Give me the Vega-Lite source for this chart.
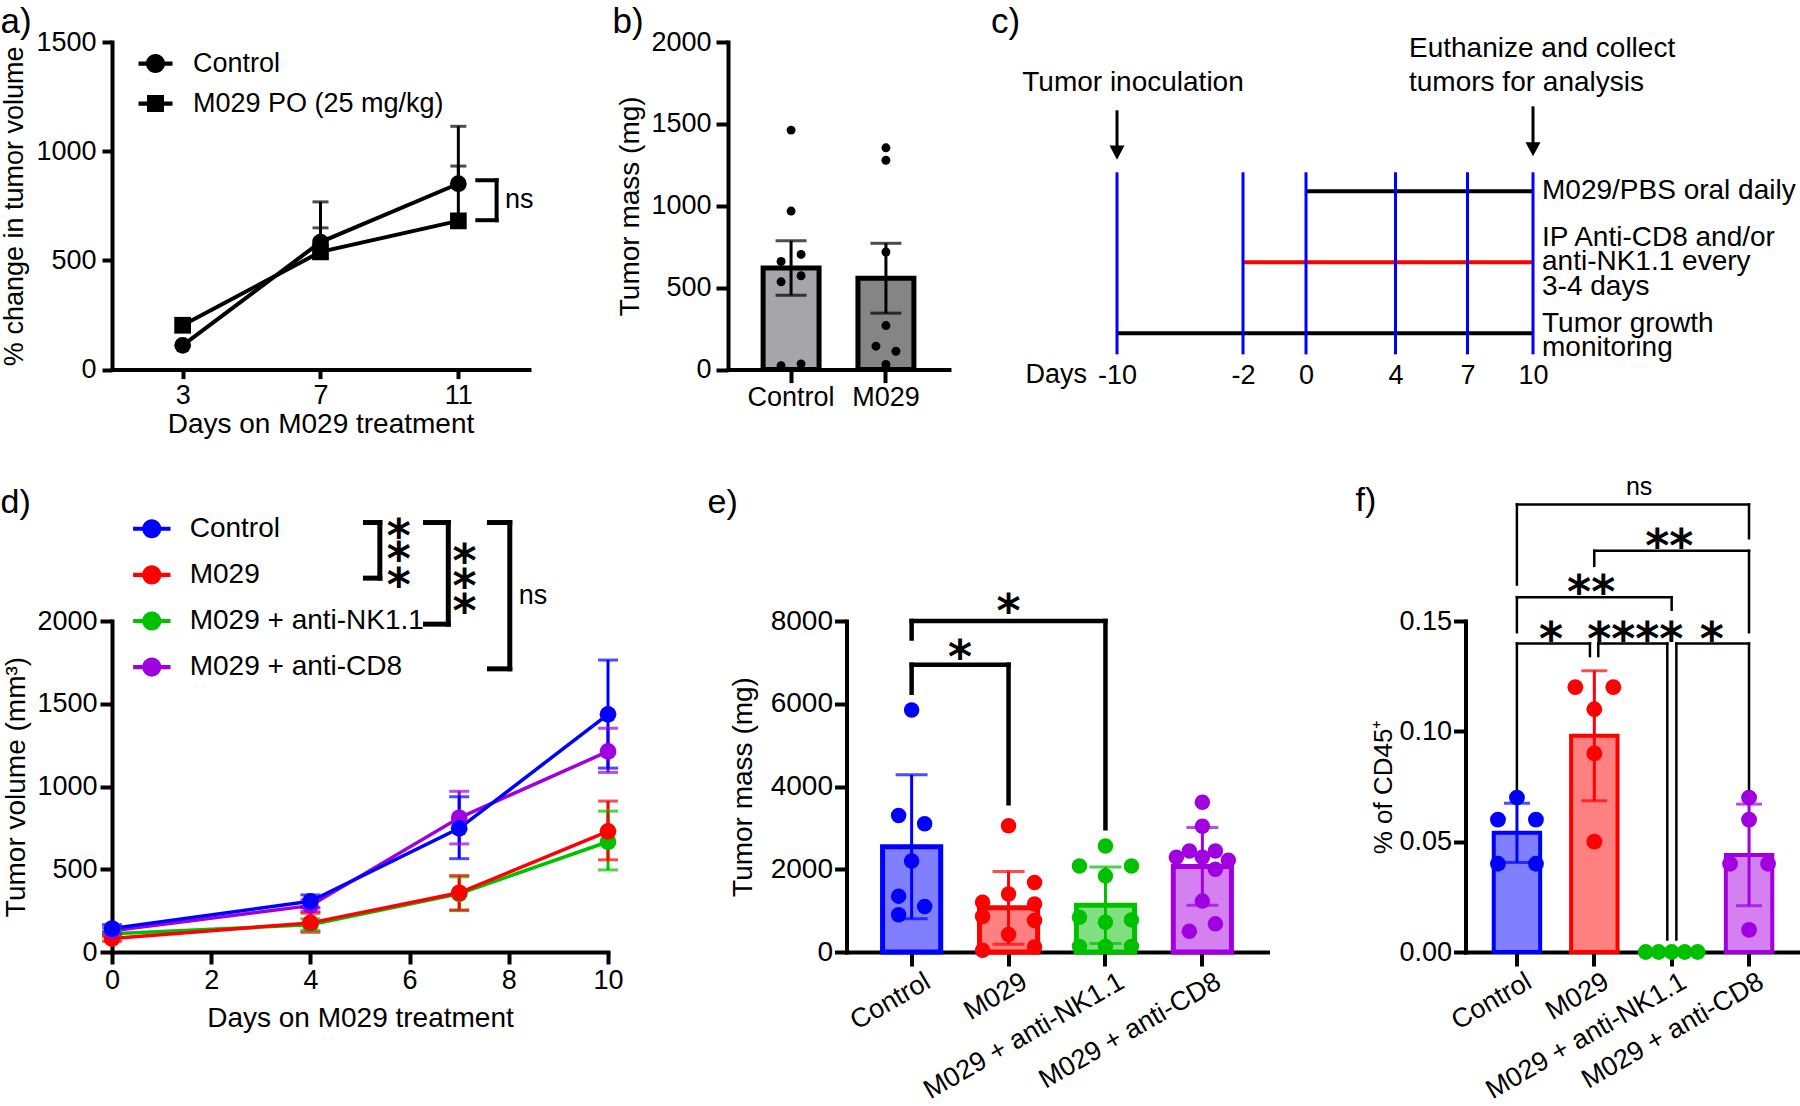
{
  "$schema": "https://vega.github.io/schema/vega-lite/v6.json",
  "background": "white",
  "padding": {"left": 0, "top": 5, "right": 0, "bottom": 0},
  "autosize": {"type": "pad"},
  "config": {
    "font": "Liberation Sans",
    "view": {"stroke": null},
    "axis": {"grid": false, "domainColor": "black", "tickColor": "black", "labelColor": "black", "titleColor": "black", "domainWidth": 4, "tickWidth": 4, "domainCap": "square", "titleFontWeight": "normal", "labelFlush": false, "labelOverlap": false, "labelLimit": 400, "labelFont": "Liberation Sans", "titleFont": "Liberation Sans"},
    "legend": {"labelColor": "black", "labelFont": "Liberation Sans"}
  },
  "spacing": 35,
  "resolve": {"scale": {"color": "independent", "fill": "independent", "stroke": "independent", "shape": "independent"}, "legend": {"color": "independent", "shape": "independent", "fill": "independent", "stroke": "independent"}},
  "vconcat": [
    {
      "bounds": "flush",
      "spacing": 199,
      "resolve": {"scale": {"color": "independent", "fill": "independent", "stroke": "independent", "shape": "independent"}, "legend": {"color": "independent", "shape": "independent", "fill": "independent", "stroke": "independent"}},
      "hconcat": [
        {
          "width": 417, "height": 327.6,
          "data": {"values": [
            {"series": "Control", "day": 3, "pct": 111},
            {"series": "Control", "day": 7, "pct": 584, "upper": 768},
            {"series": "Control", "day": 11, "pct": 851, "upper": 1114},
            {"series": "M029 PO (25 mg/kg)", "day": 3, "pct": 203},
            {"series": "M029 PO (25 mg/kg)", "day": 7, "pct": 539, "upper": 649},
            {"series": "M029 PO (25 mg/kg)", "day": 11, "pct": 681, "upper": 932}
          ]},
          "layer": [
            {"mark": {"type": "line", "color": "black", "strokeWidth": 4},
             "encoding": {
               "x": {"field": "day", "type": "quantitative", "title": "Days on M029 treatment", "scale": {"domain": [0.95, 13.05], "nice": false, "zero": false},
                     "axis": {"values": [3, 7, 11], "title": "Days on M029 treatment", "tickSize": 9, "labelPadding": 4, "titlePadding": 2, "labelFontSize": 27, "titleFontSize": 28}},
               "y": {"field": "pct", "type": "quantitative", "title": "% change in tumor volume", "scale": {"domain": [0, 1500], "nice": false},
                     "axis": {"values": [0, 500, 1000, 1500], "format": "d", "title": "% change in tumor volume", "tickSize": 10, "labelPadding": 6, "titlePadding": 7.5, "labelFontSize": 27, "titleFontSize": 27}},
               "detail": {"field": "series", "type": "nominal"}
             }},
            {"transform": [{"filter": "isValid(datum.upper)"}],
             "mark": {"type": "rule", "color": "black", "strokeWidth": 3},
             "encoding": {"x": {"field": "day", "type": "quantitative", "title": "Days on M029 treatment"}, "y": {"field": "pct", "type": "quantitative", "title": "% change in tumor volume"}, "y2": {"field": "upper"}}},
            {"transform": [{"filter": "isValid(datum.upper)"}],
             "mark": {"type": "tick", "orient": "horizontal", "color": "black", "size": 16, "thickness": 3},
             "encoding": {"x": {"field": "day", "type": "quantitative", "title": "Days on M029 treatment"}, "y": {"field": "upper", "type": "quantitative", "title": "% change in tumor volume"}}},
            {"mark": {"type": "point", "filled": true, "opacity": 1, "size": 280, "color": "black"},
             "encoding": {"x": {"field": "day", "type": "quantitative", "title": "Days on M029 treatment"}, "y": {"field": "pct", "type": "quantitative", "title": "% change in tumor volume"},
               "shape": {"field": "series", "type": "nominal", "scale": {"domain": ["Control", "M029 PO (25 mg/kg)"], "range": ["circle", "square"]}, "legend": null}}},
            {"mark": {"type": "point", "filled": true, "opacity": 0, "size": 1156, "color": "black"},
             "encoding": {"x": {"field": "day", "type": "quantitative", "title": "Days on M029 treatment"}, "y": {"field": "pct", "type": "quantitative", "title": "% change in tumor volume"},
               "shape": {"field": "series", "type": "nominal",
                 "scale": {"domain": ["Control", "M029 PO (25 mg/kg)"], "range": ["M-1,-0.12H1V0.12H-1Z M0.56,0A0.56,0.56,0,1,1,-0.56,0A0.56,0.56,0,1,1,0.56,0Z", "M-1,-0.12H1V0.12H-1Z M-0.5,-0.5H0.5V0.5H-0.5Z"]},
                 "legend": {"title": null, "orient": "none", "legendX": 26.5, "legendY": 4.6, "symbolSize": 1156, "symbolOpacity": 1, "symbolFillColor": "black", "symbolStrokeWidth": 0, "labelFontSize": 27, "labelOffset": 20.5, "rowPadding": 10, "padding": 0, "labelLimit": 500}}}},
            {"data": {"values": [
              {"d1": 11.55, "d2": 12.11, "v1": 867, "v2": 867},
              {"d1": 11.55, "d2": 12.11, "v1": 684, "v2": 684},
              {"d1": 12.11, "d2": 12.11, "v1": 684, "v2": 867}
            ]},
             "mark": {"type": "rule", "color": "black", "strokeWidth": 4, "strokeCap": "square"},
             "encoding": {"x": {"field": "d1", "type": "quantitative", "title": "Days on M029 treatment"}, "x2": {"field": "d2"}, "y": {"field": "v1", "type": "quantitative", "title": "% change in tumor volume"}, "y2": {"field": "v2"}}},
            {"data": {"values": [{"d": 12.35, "v": 775, "t": "ns"}]},
             "mark": {"type": "text", "align": "left", "baseline": "middle", "fontSize": 27, "color": "black"},
             "encoding": {"x": {"field": "d", "type": "quantitative", "title": "Days on M029 treatment"}, "y": {"field": "v", "type": "quantitative", "title": "% change in tumor volume"}, "text": {"field": "t"}}},
            {"data": {"values": [{}]},
             "mark": {"type": "text", "align": "left", "baseline": "alphabetic", "fontSize": 35, "dx": -111.5, "dy": -8.7, "color": "black"},
             "encoding": {"x": {"datum": 0.95}, "y": {"datum": 1500}, "text": {"value": "a)"}}}
          ],
          "resolve": {"scale": {"shape": "independent"}, "legend": {"shape": "independent"}}
        },
        {
          "bounds": "flush",
          "spacing": 168,
          "resolve": {"scale": {"color": "independent", "fill": "independent", "stroke": "independent", "shape": "independent"}, "legend": {"color": "independent", "shape": "independent", "fill": "independent", "stroke": "independent"}},
          "hconcat": [
            {
              "width": 221, "height": 327.6,
              "data": {"values": [
                {"group": "Control", "mass": 1462, "col": 0},
                {"group": "Control", "mass": 968, "col": 0},
                {"group": "Control", "mass": 703, "col": 1},
                {"group": "Control", "mass": 660, "col": -1},
                {"group": "Control", "mass": 573, "col": 1},
                {"group": "Control", "mass": 536, "col": -1},
                {"group": "Control", "mass": 24, "col": -1},
                {"group": "Control", "mass": 35, "col": 1},
                {"group": "M029", "mass": 1354, "col": 0},
                {"group": "M029", "mass": 1278, "col": 0},
                {"group": "M029", "mass": 718, "col": 0},
                {"group": "M029", "mass": 269, "col": 0},
                {"group": "M029", "mass": 143, "col": -1},
                {"group": "M029", "mass": 112, "col": 1},
                {"group": "M029", "mass": 31, "col": 0}
              ]},
              "encoding": {
                "x": {"field": "group", "type": "nominal", "title": null, "scale": {"domain": ["Control", "M029"], "paddingInner": 0.41, "paddingOuter": 0.37},
                      "axis": {"labelAngle": 0, "title": null, "tickSize": 13, "labelPadding": 2, "labelFontSize": 27}}
              },
              "layer": [
                {"mark": {"type": "bar", "stroke": "black", "strokeWidth": 5},
                 "encoding": {
                   "y": {"aggregate": "mean", "field": "mass", "type": "quantitative", "title": "Tumor mass (mg)", "scale": {"domain": [0, 2000], "nice": false},
                         "axis": {"values": [0, 500, 1000, 1500, 2000], "format": "d", "title": "Tumor mass (mg)", "tickSize": 12, "labelPadding": 5, "titlePadding": 6.5, "labelFontSize": 27, "titleFontSize": 28}},
                   "fill": {"field": "group", "type": "nominal", "scale": {"domain": ["Control", "M029"], "range": ["#a6a6a8", "#858585"]}, "legend": null}
                 }},
                {"mark": {"type": "errorbar", "extent": "stderr", "color": "black", "thickness": 3, "size": 31, "ticks": true},
                 "encoding": {"y": {"field": "mass", "type": "quantitative", "title": "Tumor mass (mg)"}}},
                {"transform": [{"filter": "datum.col == -1"}],
                 "mark": {"type": "circle", "size": 80, "color": "black", "opacity": 1, "xOffset": -10},
                 "encoding": {"y": {"field": "mass", "type": "quantitative", "title": "Tumor mass (mg)"}}},
                {"transform": [{"filter": "datum.col == 0"}],
                 "mark": {"type": "circle", "size": 80, "color": "black", "opacity": 1},
                 "encoding": {"y": {"field": "mass", "type": "quantitative", "title": "Tumor mass (mg)"}}},
                {"transform": [{"filter": "datum.col == 1"}],
                 "mark": {"type": "circle", "size": 80, "color": "black", "opacity": 1, "xOffset": 10},
                 "encoding": {"y": {"field": "mass", "type": "quantitative", "title": "Tumor mass (mg)"}}},
                {"data": {"values": [{}]},
                 "mark": {"type": "text", "align": "left", "baseline": "alphabetic", "fontSize": 35, "dx": -178.6, "dy": -8.7, "color": "black"},
                 "encoding": {"x": {"datum": "Control"}, "y": {"datum": 2000}, "text": {"value": "b)"}}}
              ]
            },
            {
              "width": 416, "height": 327.6,
              "layer": [
                {"data": {"values": [
                  {"track": "M029/PBS oral daily", "from": 0, "to": 10, "v": 1},
                  {"track": "IP antibody", "from": -2, "to": 10, "v": 2},
                  {"track": "Tumor growth monitoring", "from": -10, "to": 10, "v": 3}
                ]},
                 "mark": {"type": "rule", "strokeWidth": 4},
                 "encoding": {
                   "x": {"field": "from", "type": "quantitative", "title": null, "scale": {"domain": [-10, -2, 0, 4, 7, 10], "range": [0, 126, 189, 278.5, 350.5, 416], "nice": false, "zero": false},
                         "axis": {"values": [-10, -2, 0, 4, 7, 10], "labelExpr": "'' + datum.value", "domain": false, "ticks": false, "tickSize": 0, "labelPadding": 6, "labelBaseline": "middle", "labelFontSize": 27, "title": null}},
                   "x2": {"field": "to"},
                   "y": {"field": "v", "type": "quantitative", "title": null, "scale": {"domain": [-1.103, 3.511], "reverse": true, "nice": false, "zero": false}, "axis": null},
                   "color": {"field": "track", "type": "nominal", "scale": {"domain": ["M029/PBS oral daily", "IP antibody", "Tumor growth monitoring"], "range": ["black", "#ff0000", "black"]}, "legend": null}
                 }},
                {"data": {"values": [
                  {"day": -10, "top": 0.732, "bottom": 3.296},
                  {"day": -2, "top": 0.732, "bottom": 3.296},
                  {"day": 0, "top": 0.732, "bottom": 3.296},
                  {"day": 4, "top": 0.732, "bottom": 3.296},
                  {"day": 7, "top": 0.732, "bottom": 3.296},
                  {"day": 10, "top": 0.732, "bottom": 3.296}
                ]},
                 "mark": {"type": "rule", "strokeWidth": 3, "color": "#0000ff"},
                 "encoding": {"x": {"field": "day", "type": "quantitative", "title": null}, "y": {"field": "top", "type": "quantitative", "title": null}, "y2": {"field": "bottom"}}},
                {"data": {"values": [
                  {"day": -10, "top": -0.141, "bottom": 0.42},
                  {"day": 10, "top": -0.197, "bottom": 0.38}
                ]},
                 "mark": {"type": "rule", "strokeWidth": 3, "color": "black"},
                 "encoding": {"x": {"field": "day", "type": "quantitative", "title": null}, "y": {"field": "top", "type": "quantitative", "title": null}, "y2": {"field": "bottom"}}},
                {"data": {"values": [
                  {"day": -10, "tip": 0.554},
                  {"day": 10, "tip": 0.507}
                ]},
                 "mark": {"type": "point", "shape": "M0,0L-1,-1.87L1,-1.87Z", "filled": true, "size": 225, "color": "black", "opacity": 1},
                 "encoding": {"x": {"field": "day", "type": "quantitative", "title": null}, "y": {"field": "tip", "type": "quantitative", "title": null}}},
                {"data": {"values": [
                  {"day": 10, "v": 1, "label": "M029/PBS oral daily"},
                  {"day": 10, "v": 1.662, "label": "IP Anti-CD8 and/or"},
                  {"day": 10, "v": 2.0, "label": "anti-NK1.1 every"},
                  {"day": 10, "v": 2.352, "label": "3-4 days"},
                  {"day": 10, "v": 2.873, "label": "Tumor growth"},
                  {"day": 10, "v": 3.211, "label": "monitoring"}
                ]},
                 "mark": {"type": "text", "align": "left", "baseline": "middle", "dx": 9, "fontSize": 28, "color": "black"},
                 "encoding": {"x": {"field": "day", "type": "quantitative", "title": null}, "y": {"field": "v", "type": "quantitative", "title": null}, "text": {"field": "label"}}},
                {"data": {"values": [
                  {"day": 10, "v": -1.0, "label": "Euthanize and collect"},
                  {"day": 10, "v": -0.521, "label": "tumors for analysis"}
                ]},
                 "mark": {"type": "text", "align": "left", "baseline": "middle", "dx": -124, "fontSize": 28, "color": "black"},
                 "encoding": {"x": {"field": "day", "type": "quantitative", "title": null}, "y": {"field": "v", "type": "quantitative", "title": null}, "text": {"field": "label"}}},
                {"data": {"values": [
                  {"day": -10, "v": -0.521, "label": "Tumor inoculation"}
                ]},
                 "mark": {"type": "text", "align": "center", "baseline": "middle", "dx": 16, "fontSize": 28, "color": "black"},
                 "encoding": {"x": {"field": "day", "type": "quantitative", "title": null}, "y": {"field": "v", "type": "quantitative", "title": null}, "text": {"field": "label"}}},
                {"data": {"values": [
                  {"day": -10, "v": 3.592, "label": "Days"}
                ]},
                 "mark": {"type": "text", "align": "right", "baseline": "middle", "dx": -30, "fontSize": 27, "color": "black"},
                 "encoding": {"x": {"field": "day", "type": "quantitative", "title": null}, "y": {"field": "v", "type": "quantitative", "title": null}, "text": {"field": "label"}}},
                {"data": {"values": [{}]},
                 "mark": {"type": "text", "align": "left", "baseline": "alphabetic", "fontSize": 35, "dx": -126, "dy": -8.7, "color": "black"},
                 "encoding": {"x": {"datum": -10}, "y": {"datum": -1.103}, "text": {"value": "c)"}}}
              ]
            }
          ]
        }
      ]
    },
    {
      "bounds": "flush",
      "spacing": 238.5,
      "resolve": {"scale": {"color": "independent", "fill": "independent", "stroke": "independent", "shape": "independent"}, "legend": {"color": "independent", "shape": "independent", "fill": "independent", "stroke": "independent"}},
      "hconcat": [
        {
          "width": 496, "height": 331,
          "data": {"values": [
            {"series": "M029 + anti-NK1.1", "day": 0, "vol": 110, "lo": 95, "hi": 125},
            {"series": "M029 + anti-NK1.1", "day": 4, "vol": 165, "lo": 130, "hi": 200},
            {"series": "M029 + anti-NK1.1", "day": 7, "vol": 352, "lo": 250, "hi": 454},
            {"series": "M029 + anti-NK1.1", "day": 10, "vol": 666, "lo": 496, "hi": 851},
            {"series": "M029", "day": 0, "vol": 81, "lo": 65, "hi": 97},
            {"series": "M029", "day": 4, "vol": 176, "lo": 119, "hi": 234},
            {"series": "M029", "day": 7, "vol": 358, "lo": 254, "hi": 462},
            {"series": "M029", "day": 10, "vol": 729, "lo": 557, "hi": 912},
            {"series": "M029 + anti-CD8", "day": 0, "vol": 128, "lo": 110, "hi": 146},
            {"series": "M029 + anti-CD8", "day": 4, "vol": 280, "lo": 245, "hi": 315},
            {"series": "M029 + anti-CD8", "day": 7, "vol": 811, "lo": 653, "hi": 971},
            {"series": "M029 + anti-CD8", "day": 10, "vol": 1212, "lo": 1085, "hi": 1352},
            {"series": "Control", "day": 0, "vol": 142, "lo": 120, "hi": 165},
            {"series": "Control", "day": 4, "vol": 306, "lo": 268, "hi": 345},
            {"series": "Control", "day": 7, "vol": 747, "lo": 564, "hi": 938},
            {"series": "Control", "day": 10, "vol": 1436, "lo": 1111, "hi": 1764}
          ]},
          "layer": [
            {"mark": {"type": "line", "strokeWidth": 3.5},
             "encoding": {
               "x": {"field": "day", "type": "quantitative", "title": "Days on M029 treatment", "scale": {"domain": [0, 10], "nice": false, "zero": false},
                     "axis": {"values": [0, 2, 4, 6, 8, 10], "title": "Days on M029 treatment", "tickSize": 12, "labelPadding": 3, "titlePadding": 11, "labelFontSize": 27, "titleFontSize": 28}},
               "y": {"field": "vol", "type": "quantitative", "title": "Tumor volume (mm³)", "scale": {"domain": [0, 2000], "nice": false},
                     "axis": {"values": [0, 500, 1000, 1500, 2000], "format": "d", "title": "Tumor volume (mm³)", "tickSize": 12, "labelPadding": 3, "titlePadding": 6, "labelFontSize": 27, "titleFontSize": 28}},
               "color": {"field": "series", "type": "nominal", "scale": {"domain": ["Control", "M029", "M029 + anti-NK1.1", "M029 + anti-CD8"], "range": ["#0000ff", "#ff0000", "#00c000", "#a000e0"]}, "legend": null}
             }},
            {"mark": {"type": "rule", "strokeWidth": 3},
             "encoding": {"x": {"field": "day", "type": "quantitative", "title": "Days on M029 treatment"}, "y": {"field": "lo", "type": "quantitative", "title": "Tumor volume (mm³)"}, "y2": {"field": "hi"},
               "color": {"field": "series", "type": "nominal", "legend": null}}},
            {"mark": {"type": "tick", "orient": "horizontal", "size": 20, "thickness": 3},
             "encoding": {"x": {"field": "day", "type": "quantitative", "title": "Days on M029 treatment"}, "y": {"field": "lo", "type": "quantitative", "title": "Tumor volume (mm³)"},
               "color": {"field": "series", "type": "nominal", "legend": null}}},
            {"mark": {"type": "tick", "orient": "horizontal", "size": 20, "thickness": 3},
             "encoding": {"x": {"field": "day", "type": "quantitative", "title": "Days on M029 treatment"}, "y": {"field": "hi", "type": "quantitative", "title": "Tumor volume (mm³)"},
               "color": {"field": "series", "type": "nominal", "legend": null}}},
            {"mark": {"type": "circle", "size": 280, "opacity": 1},
             "encoding": {"x": {"field": "day", "type": "quantitative", "title": "Days on M029 treatment"}, "y": {"field": "vol", "type": "quantitative", "title": "Tumor volume (mm³)"},
               "color": {"field": "series", "type": "nominal", "legend": null}}},
            {"mark": {"type": "point", "filled": true, "opacity": 0, "size": 1400},
             "encoding": {"x": {"field": "day", "type": "quantitative", "title": "Days on M029 treatment"}, "y": {"field": "vol", "type": "quantitative", "title": "Tumor volume (mm³)"},
               "color": {"field": "series", "type": "nominal",
                 "legend": {"title": null, "orient": "none", "legendX": 20.8, "legendY": -111.2, "symbolType": "M-1,-0.11H1V0.11H-1Z M0.51,0A0.51,0.51,0,1,1,-0.51,0A0.51,0.51,0,1,1,0.51,0Z", "symbolSize": 1400, "symbolOpacity": 1, "symbolStrokeWidth": 0, "labelFontSize": 28, "labelOffset": 18.9, "rowPadding": 13.1, "padding": 0, "labelLimit": 500}}}},
            {"data": {"values": [
              {"d1": 5.11, "d2": 5.40, "v1": 2595, "v2": 2595},
              {"d1": 5.11, "d2": 5.40, "v1": 2259, "v2": 2259},
              {"d1": 5.40, "d2": 5.40, "v1": 2259, "v2": 2595},
              {"d1": 6.32, "d2": 6.78, "v1": 2595, "v2": 2595},
              {"d1": 6.32, "d2": 6.78, "v1": 1981, "v2": 1981},
              {"d1": 6.78, "d2": 6.78, "v1": 1981, "v2": 2595},
              {"d1": 7.61, "d2": 8.02, "v1": 2595, "v2": 2595},
              {"d1": 7.61, "d2": 8.02, "v1": 1711, "v2": 1711},
              {"d1": 8.02, "d2": 8.02, "v1": 1711, "v2": 2595}
            ]},
             "mark": {"type": "rule", "color": "black", "strokeWidth": 5, "strokeCap": "square"},
             "encoding": {"x": {"field": "d1", "type": "quantitative", "title": "Days on M029 treatment"}, "x2": {"field": "d2"}, "y": {"field": "v1", "type": "quantitative", "title": "Tumor volume (mm³)"}, "y2": {"field": "v2"}}},
            {"data": {"values": [
              {"d": 5.78, "v": 2575, "t": "*"},
              {"d": 5.78, "v": 2436, "t": "*"},
              {"d": 5.78, "v": 2277, "t": "*"},
              {"d": 7.11, "v": 2424, "t": "*"},
              {"d": 7.11, "v": 2272, "t": "*"},
              {"d": 7.11, "v": 2120, "t": "*"}
            ]},
             "mark": {"type": "text", "align": "center", "baseline": "middle", "dy": 12, "font": "DejaVu Sans", "fontWeight": "bold", "fontSize": 46, "color": "black"},
             "encoding": {"x": {"field": "d", "type": "quantitative", "title": "Days on M029 treatment"}, "y": {"field": "v", "type": "quantitative", "title": "Tumor volume (mm³)"}, "text": {"field": "t"}}},
            {"data": {"values": [{"d": 8.2, "v": 2150, "t": "ns"}]},
             "mark": {"type": "text", "align": "left", "baseline": "middle", "fontSize": 27, "color": "black"},
             "encoding": {"x": {"field": "d", "type": "quantitative", "title": "Days on M029 treatment"}, "y": {"field": "v", "type": "quantitative", "title": "Tumor volume (mm³)"}, "text": {"field": "t"}}},
            {"data": {"values": [{}]},
             "mark": {"type": "text", "align": "left", "baseline": "alphabetic", "fontSize": 34, "dx": -111.5, "dy": -107.7, "color": "black"},
             "encoding": {"x": {"datum": 0}, "y": {"datum": 2000}, "text": {"value": "d)"}}}
          ],
          "resolve": {"legend": {"color": "independent"}}
        },
        {
          "bounds": "flush",
          "spacing": 198,
          "resolve": {"scale": {"color": "independent", "fill": "independent", "stroke": "independent", "shape": "independent"}, "legend": {"color": "independent", "shape": "independent", "fill": "independent", "stroke": "independent"}},
          "hconcat": [
            {
              "width": 421, "height": 331,
              "layer": [
                {
                  "data": {"values": [
                    {"group": "Control", "mass": 5850, "col": 0},
                    {"group": "Control", "mass": 3300, "col": -1},
                    {"group": "Control", "mass": 3100, "col": 1},
                    {"group": "Control", "mass": 2200, "col": 0},
                    {"group": "Control", "mass": 1350, "col": -1},
                    {"group": "Control", "mass": 1100, "col": 1},
                    {"group": "Control", "mass": 900, "col": -1},
                    {"group": "M029", "mass": 3050, "col": 0},
                    {"group": "M029", "mass": 1680, "col": 2},
                    {"group": "M029", "mass": 1400, "col": 0},
                    {"group": "M029", "mass": 1200, "col": -2},
                    {"group": "M029", "mass": 1160, "col": 2},
                    {"group": "M029", "mass": 856, "col": -2},
                    {"group": "M029", "mass": 760, "col": 2},
                    {"group": "M029", "mass": 424, "col": 0},
                    {"group": "M029", "mass": 40, "col": -2},
                    {"group": "M029", "mass": 120, "col": 2},
                    {"group": "M029 + anti-NK1.1", "mass": 2560, "col": 0},
                    {"group": "M029 + anti-NK1.1", "mass": 2080, "col": -2},
                    {"group": "M029 + anti-NK1.1", "mass": 2080, "col": 2},
                    {"group": "M029 + anti-NK1.1", "mass": 1840, "col": 0},
                    {"group": "M029 + anti-NK1.1", "mass": 840, "col": -2},
                    {"group": "M029 + anti-NK1.1", "mass": 720, "col": 0},
                    {"group": "M029 + anti-NK1.1", "mass": 776, "col": 2},
                    {"group": "M029 + anti-NK1.1", "mass": 136, "col": -2},
                    {"group": "M029 + anti-NK1.1", "mass": 136, "col": 0},
                    {"group": "M029 + anti-NK1.1", "mass": 136, "col": 2},
                    {"group": "M029 + anti-CD8", "mass": 3620, "col": 0},
                    {"group": "M029 + anti-CD8", "mass": 3040, "col": 0},
                    {"group": "M029 + anti-CD8", "mass": 2440, "col": -1},
                    {"group": "M029 + anti-CD8", "mass": 2440, "col": 1},
                    {"group": "M029 + anti-CD8", "mass": 2290, "col": 0},
                    {"group": "M029 + anti-CD8", "mass": 2290, "col": -2},
                    {"group": "M029 + anti-CD8", "mass": 2220, "col": 2},
                    {"group": "M029 + anti-CD8", "mass": 2000, "col": 1},
                    {"group": "M029 + anti-CD8", "mass": 1230, "col": 0},
                    {"group": "M029 + anti-CD8", "mass": 680, "col": 1},
                    {"group": "M029 + anti-CD8", "mass": 500, "col": -1}
                  ]},
                  "encoding": {
                    "x": {"field": "group", "type": "nominal", "title": null, "scale": {"domain": ["Control", "M029", "M029 + anti-NK1.1", "M029 + anti-CD8"], "paddingInner": 0.4, "paddingOuter": 0.372},
                          "axis": {"labelAngle": -30, "title": null, "tickSize": 14, "labelPadding": 2, "labelOffset": 10, "labelFontSize": 27}},
                    "color": {"field": "group", "type": "nominal", "scale": {"domain": ["Control", "M029", "M029 + anti-NK1.1", "M029 + anti-CD8"], "range": ["#0000ff", "#ff0000", "#00c000", "#a000e0"]}, "legend": null}
                  },
                  "layer": [
                    {"mark": {"type": "bar", "strokeWidth": 5},
                     "encoding": {
                       "y": {"aggregate": "mean", "field": "mass", "type": "quantitative", "title": "Tumor mass (mg)", "scale": {"domain": [0, 8000], "nice": false},
                             "axis": {"values": [0, 2000, 4000, 6000, 8000], "format": "d", "title": "Tumor mass (mg)", "tickSize": 12, "labelPadding": 2, "titlePadding": 12.7, "labelFontSize": 28, "titleFontSize": 28}},
                       "fill": {"field": "group", "type": "nominal", "scale": {"domain": ["Control", "M029", "M029 + anti-NK1.1", "M029 + anti-CD8"], "range": ["#8080ff", "#ff8080", "#80e080", "#d580f0"]}, "legend": null},
                       "stroke": {"field": "group", "type": "nominal", "scale": {"domain": ["Control", "M029", "M029 + anti-NK1.1", "M029 + anti-CD8"], "range": ["#0000ff", "#ff0000", "#00c000", "#a000e0"]}, "legend": null}
                     }},
                    {"mark": {"type": "errorbar", "extent": "stdev", "thickness": 3, "size": 32, "ticks": true},
                     "encoding": {"y": {"field": "mass", "type": "quantitative", "title": "Tumor mass (mg)"}}},
                    {"transform": [{"filter": "datum.col == -2"}],
                     "mark": {"type": "circle", "size": 240, "opacity": 1, "xOffset": -26},
                     "encoding": {"y": {"field": "mass", "type": "quantitative", "title": "Tumor mass (mg)"}}},
                    {"transform": [{"filter": "datum.col == -1"}],
                     "mark": {"type": "circle", "size": 240, "opacity": 1, "xOffset": -13},
                     "encoding": {"y": {"field": "mass", "type": "quantitative", "title": "Tumor mass (mg)"}}},
                    {"transform": [{"filter": "datum.col == 0"}],
                     "mark": {"type": "circle", "size": 240, "opacity": 1},
                     "encoding": {"y": {"field": "mass", "type": "quantitative", "title": "Tumor mass (mg)"}}},
                    {"transform": [{"filter": "datum.col == 1"}],
                     "mark": {"type": "circle", "size": 240, "opacity": 1, "xOffset": 13},
                     "encoding": {"y": {"field": "mass", "type": "quantitative", "title": "Tumor mass (mg)"}}},
                    {"transform": [{"filter": "datum.col == 2"}],
                     "mark": {"type": "circle", "size": 240, "opacity": 1, "xOffset": 26},
                     "encoding": {"y": {"field": "mass", "type": "quantitative", "title": "Tumor mass (mg)"}}}
                  ]
                },
                {
                  "layer": [
                    {"data": {"values": [
                      {"p1": 1, "p2": 3, "v1": 8000, "v2": 8000},
                      {"p1": 1, "p2": 1, "v1": 7577, "v2": 8000},
                      {"p1": 3, "p2": 3, "v1": 2992, "v2": 8000},
                      {"p1": 1, "p2": 2, "v1": 6942, "v2": 6942},
                      {"p1": 1, "p2": 1, "v1": 6267, "v2": 6942},
                      {"p1": 2, "p2": 2, "v1": 3597, "v2": 6942}
                    ]},
                     "mark": {"type": "rule", "color": "black", "strokeWidth": 4.5, "strokeCap": "square"},
                     "encoding": {"x": {"field": "p1", "type": "quantitative", "scale": {"domain": [0.328, 4.672], "nice": false, "zero": false}, "axis": null}, "x2": {"field": "p2"},
                       "y": {"field": "v1", "type": "quantitative", "title": "Tumor mass (mg)"}, "y2": {"field": "v2"}}},
                    {"data": {"values": [
                      {"p": 2, "v": 8483, "t": "*"},
                      {"p": 1.5, "v": 7375, "t": "*"}
                    ]},
                     "mark": {"type": "text", "align": "center", "baseline": "middle", "dy": 12, "font": "DejaVu Sans", "fontWeight": "bold", "fontSize": 46, "color": "black"},
                     "encoding": {"x": {"field": "p", "type": "quantitative"}, "y": {"field": "v", "type": "quantitative", "title": "Tumor mass (mg)"}, "text": {"field": "t"}}},
                    {"data": {"values": [{}]},
                     "mark": {"type": "text", "align": "left", "baseline": "alphabetic", "fontSize": 34, "dx": -139, "dy": -107.7, "color": "black"},
                     "encoding": {"x": {"datum": 0.328}, "y": {"datum": 8000}, "text": {"value": "e)"}}}
                  ]
                }
              ],
              "resolve": {"scale": {"x": "independent"}}
            },
            {
              "width": 335, "height": 331,
              "layer": [
                {
                  "data": {"values": [
                    {"group": "Control", "pct": 0.070, "col": 0},
                    {"group": "Control", "pct": 0.060, "col": -1},
                    {"group": "Control", "pct": 0.060, "col": 1},
                    {"group": "Control", "pct": 0.040, "col": -1},
                    {"group": "Control", "pct": 0.040, "col": 1},
                    {"group": "M029", "pct": 0.120, "col": -1},
                    {"group": "M029", "pct": 0.120, "col": 1},
                    {"group": "M029", "pct": 0.110, "col": 0},
                    {"group": "M029", "pct": 0.090, "col": 0},
                    {"group": "M029", "pct": 0.050, "col": 0},
                    {"group": "M029 + anti-NK1.1", "pct": 0, "col": -2},
                    {"group": "M029 + anti-NK1.1", "pct": 0, "col": -0.5},
                    {"group": "M029 + anti-NK1.1", "pct": 0, "col": 0},
                    {"group": "M029 + anti-NK1.1", "pct": 0, "col": 0.5},
                    {"group": "M029 + anti-NK1.1", "pct": 0, "col": 2},
                    {"group": "M029 + anti-CD8", "pct": 0.070, "col": 0},
                    {"group": "M029 + anti-CD8", "pct": 0.060, "col": 0},
                    {"group": "M029 + anti-CD8", "pct": 0.040, "col": -1},
                    {"group": "M029 + anti-CD8", "pct": 0.040, "col": 1},
                    {"group": "M029 + anti-CD8", "pct": 0.010, "col": 0}
                  ]},
                  "encoding": {
                    "x": {"field": "group", "type": "nominal", "title": null, "scale": {"domain": ["Control", "M029", "M029 + anti-NK1.1", "M029 + anti-CD8"], "paddingInner": 0.4, "paddingOuter": 0.365},
                          "axis": {"labelAngle": -30, "title": null, "tickSize": 14, "labelPadding": 2, "labelOffset": 6, "labelFontSize": 27}},
                    "color": {"field": "group", "type": "nominal", "scale": {"domain": ["Control", "M029", "M029 + anti-NK1.1", "M029 + anti-CD8"], "range": ["#0000ff", "#ff0000", "#00c000", "#a000e0"]}, "legend": null}
                  },
                  "layer": [
                    {"mark": {"type": "bar", "strokeWidth": 4},
                     "encoding": {
                       "y": {"aggregate": "mean", "field": "pct", "type": "quantitative", "title": "% of CD45⁺", "scale": {"domain": [0, 0.15], "nice": false},
                             "axis": {"values": [0, 0.05, 0.1, 0.15], "format": ".2f", "title": "% of CD45⁺", "tickSize": 12, "labelPadding": 2, "titlePadding": 2.2, "labelFontSize": 27, "titleFontSize": 26}},
                       "fill": {"field": "group", "type": "nominal", "scale": {"domain": ["Control", "M029", "M029 + anti-NK1.1", "M029 + anti-CD8"], "range": ["#8080ff", "#ff8080", "#80e080", "#d580f0"]}, "legend": null},
                       "stroke": {"field": "group", "type": "nominal", "scale": {"domain": ["Control", "M029", "M029 + anti-NK1.1", "M029 + anti-CD8"], "range": ["#0000ff", "#ff0000", "#00c000", "#a000e0"]}, "legend": null}
                     }},
                    {"mark": {"type": "errorbar", "extent": "stdev", "thickness": 3, "size": 26, "ticks": true},
                     "encoding": {"y": {"field": "pct", "type": "quantitative", "title": "% of CD45⁺"}}},
                    {"transform": [{"filter": "datum.col == -2"}],
                     "mark": {"type": "circle", "size": 250, "opacity": 1, "xOffset": -26},
                     "encoding": {"y": {"field": "pct", "type": "quantitative", "title": "% of CD45⁺"}}},
                    {"transform": [{"filter": "datum.col == -1"}],
                     "mark": {"type": "circle", "size": 250, "opacity": 1, "xOffset": -19},
                     "encoding": {"y": {"field": "pct", "type": "quantitative", "title": "% of CD45⁺"}}},
                    {"transform": [{"filter": "datum.col == -0.5"}],
                     "mark": {"type": "circle", "size": 250, "opacity": 1, "xOffset": -13},
                     "encoding": {"y": {"field": "pct", "type": "quantitative", "title": "% of CD45⁺"}}},
                    {"transform": [{"filter": "datum.col == 0"}],
                     "mark": {"type": "circle", "size": 250, "opacity": 1},
                     "encoding": {"y": {"field": "pct", "type": "quantitative", "title": "% of CD45⁺"}}},
                    {"transform": [{"filter": "datum.col == 0.5"}],
                     "mark": {"type": "circle", "size": 250, "opacity": 1, "xOffset": 13},
                     "encoding": {"y": {"field": "pct", "type": "quantitative", "title": "% of CD45⁺"}}},
                    {"transform": [{"filter": "datum.col == 1"}],
                     "mark": {"type": "circle", "size": 250, "opacity": 1, "xOffset": 19},
                     "encoding": {"y": {"field": "pct", "type": "quantitative", "title": "% of CD45⁺"}}},
                    {"transform": [{"filter": "datum.col == 2"}],
                     "mark": {"type": "circle", "size": 250, "opacity": 1, "xOffset": 26},
                     "encoding": {"y": {"field": "pct", "type": "quantitative", "title": "% of CD45⁺"}}}
                  ]
                },
                {
                  "layer": [
                    {"data": {"values": [
                      {"p1": 1, "p2": 4, "v1": 0.2028, "v2": 0.2028},
                      {"p1": 1, "p2": 1, "v1": 0.1665, "v2": 0.2028},
                      {"p1": 4, "p2": 4, "v1": 0.1875, "v2": 0.2028},
                      {"p1": 2, "p2": 4, "v1": 0.1818, "v2": 0.1818},
                      {"p1": 2, "p2": 2, "v1": 0.175, "v2": 0.1818},
                      {"p1": 4, "p2": 4, "v1": 0.1449, "v2": 0.1818},
                      {"p1": 1, "p2": 3, "v1": 0.1608, "v2": 0.1608},
                      {"p1": 1, "p2": 1, "v1": 0.1449, "v2": 0.1608},
                      {"p1": 3, "p2": 3, "v1": 0.1551, "v2": 0.1608},
                      {"p1": 1, "p2": 1.944, "v1": 0.1398, "v2": 0.1398},
                      {"p1": 1, "p2": 1, "v1": 0.0739, "v2": 0.1398},
                      {"p1": 1.944, "p2": 1.944, "v1": 0.1341, "v2": 0.1398},
                      {"p1": 2.052, "p2": 2.944, "v1": 0.1398, "v2": 0.1398},
                      {"p1": 2.052, "p2": 2.052, "v1": 0.1341, "v2": 0.1398},
                      {"p1": 2.944, "p2": 2.944, "v1": 0.0057, "v2": 0.1398},
                      {"p1": 3.061, "p2": 4, "v1": 0.1398, "v2": 0.1398},
                      {"p1": 3.061, "p2": 3.061, "v1": 0.0057, "v2": 0.1398},
                      {"p1": 4, "p2": 4, "v1": 0.0739, "v2": 0.1398}
                    ]},
                     "mark": {"type": "rule", "color": "black", "strokeWidth": 2.5, "strokeCap": "square"},
                     "encoding": {"x": {"field": "p1", "type": "quantitative", "scale": {"domain": [0.3357, 4.6655], "nice": false, "zero": false}, "axis": null}, "x2": {"field": "p2"},
                       "y": {"field": "v1", "type": "quantitative", "title": "% of CD45⁺"}, "y2": {"field": "v2"}}},
                    {"data": {"values": [
                      {"p": 2.97, "v": 0.1886, "t": "**"},
                      {"p": 1.96, "v": 0.1676, "t": "**"},
                      {"p": 1.44, "v": 0.1462, "t": "*"},
                      {"p": 2.53, "v": 0.1462, "t": "****"},
                      {"p": 3.52, "v": 0.1462, "t": "*"}
                    ]},
                     "mark": {"type": "text", "align": "center", "baseline": "middle", "dy": 12, "font": "DejaVu Sans", "fontWeight": "bold", "fontSize": 46, "color": "black"},
                     "encoding": {"x": {"field": "p", "type": "quantitative"}, "y": {"field": "v", "type": "quantitative", "title": "% of CD45⁺"}, "text": {"field": "t"}}},
                    {"data": {"values": [{"p": 2.58, "v": 0.2108, "t": "ns"}]},
                     "mark": {"type": "text", "align": "center", "baseline": "middle", "fontSize": 25, "color": "black"},
                     "encoding": {"x": {"field": "p", "type": "quantitative"}, "y": {"field": "v", "type": "quantitative", "title": "% of CD45⁺"}, "text": {"field": "t"}}},
                    {"data": {"values": [{}]},
                     "mark": {"type": "text", "align": "left", "baseline": "alphabetic", "fontSize": 34, "dx": -110, "dy": -109.8, "color": "black"},
                     "encoding": {"x": {"datum": 0.3357}, "y": {"datum": 0.15}, "text": {"value": "f)"}}}
                  ]
                }
              ],
              "resolve": {"scale": {"x": "independent"}}
            }
          ]
        }
      ]
    }
  ]
}
